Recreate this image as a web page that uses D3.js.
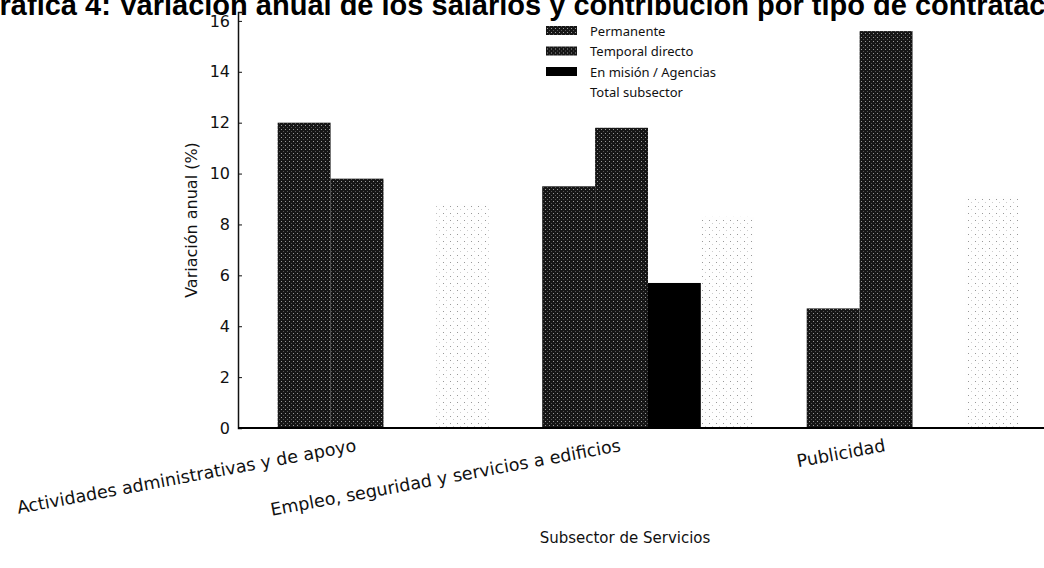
<!DOCTYPE html>
<html>
<head>
<meta charset="utf-8">
<script src="https://cdn.jsdelivr.net/npm/d3@7"></script>
<style>
	body { margin: 0; background: #fff; }
	svg { display: block; }
	.tick-y text { font-family: 'DejaVu Sans', sans-serif; font-size: 16px; fill: #111; }
	.cat-label { font-family: 'DejaVu Sans', sans-serif; font-size: 17.5px; fill: #111; }
	.axis-title { font-family: 'DejaVu Sans', sans-serif; font-size: 15px; fill: #111; }
	.axis-title.y-title { font-size: 16px; }
	.legend text { font-family: 'Noto Sans', sans-serif; font-size: 13px; fill: #111; }
	.title { font-family: 'Liberation Sans', Arial, sans-serif; font-size: 29px; font-weight: bold; fill: #000; }
</style>
</head>
<body>
<svg id="chart" width="1044" height="568"></svg>
<script>

var categories = [
	'Actividades administrativas y de apoyo',
	'Empleo, seguridad y servicios a edificios',
	'Publicidad'
];

var seriesNames = [ 'Permanente', 'Temporal directo', 'En misión / Agencias', 'Total subsector' ];

var permanente = [ 12.0, 9.5, 4.7 ];
var temporal = [ 9.8, 11.8, 15.6 ];
var enMision = [ null, 5.7, null ];
var totalSubsector = [ 8.8, 8.3, 9.1 ];

var yTicks = [ 0, 2, 4, 6, 8, 10, 12, 14, 16 ];

var series = [ permanente, temporal, enMision, totalSubsector ];
var offsets = [ -0.3, -0.1, 0.1, 0.3 ];
var barWidth = 0.2;

var svg = d3.select( '#chart' );

// halftone-ish fills, like the scanned original
var defs = svg.append( 'defs' );

var dark = defs.append( 'pattern' )
	.attr( 'id', 'dark' )
	.attr( 'patternUnits', 'userSpaceOnUse' )
	.attr( 'width', 4 ).attr( 'height', 4 );
dark.append( 'rect' ).attr( 'width', 4 ).attr( 'height', 4 ).attr( 'fill', '#161616' );
dark.append( 'rect' ).attr( 'x', 1 ).attr( 'y', 1 ).attr( 'width', 1 ).attr( 'height', 1 ).attr( 'fill', '#9a9a9a' );
dark.append( 'rect' ).attr( 'x', 3 ).attr( 'y', 3 ).attr( 'width', 1 ).attr( 'height', 1 ).attr( 'fill', '#555' );

var light = defs.append( 'pattern' )
	.attr( 'id', 'light' )
	.attr( 'patternUnits', 'userSpaceOnUse' )
	.attr( 'width', 7 ).attr( 'height', 7 );
light.append( 'rect' ).attr( 'width', 7 ).attr( 'height', 7 ).attr( 'fill', '#fefefe' );
light.append( 'rect' ).attr( 'x', 2 ).attr( 'y', 3 ).attr( 'width', 1 ).attr( 'height', 1 ).attr( 'fill', '#999' );
light.append( 'rect' ).attr( 'x', 5 ).attr( 'y', 6 ).attr( 'width', 1 ).attr( 'height', 1 ).attr( 'fill', '#ccc' );

var fills = [ 'url(#dark)', 'url(#dark)', '#000', 'url(#light)' ];

var x = d3.scaleLinear().domain( [ -0.55, 2.55 ] ).range( [ 238, 1058 ] );
var y = d3.scaleLinear().domain( [ 0, 16.35 ] ).range( [ 428, 12 ] );

// title (cropped at the top / left like the source)
svg.append( 'text' )
	.attr( 'class', 'title' )
	.attr( 'x', -23 )
	.attr( 'y', 15 )
	.text( 'Gráfica 4: Variación anual de los salarios y contribución por tipo de contratación' );

// bars
var bars = svg.append( 'g' );
series.forEach( function ( values, s ) {
	var pts = values.map( function ( v, i ) { return { i: i, v: v }; } )
		.filter( function ( d ) { return d.v !== null; } );
	bars.selectAll( 'rect.s' + s )
		.data( pts )
		.enter()
		.append( 'rect' )
		.attr( 'class', 's' + s )
		.attr( 'x', function ( d ) { return x( d.i + offsets[s] - barWidth / 2 ); } )
		.attr( 'y', function ( d ) { return y( d.v ); } )
		.attr( 'width', x( barWidth ) - x( 0 ) )
		.attr( 'height', function ( d ) { return y( 0 ) - y( d.v ); } )
		.attr( 'fill', fills[s] );
} );

// y axis, ticks pointing inwards
var yAxis = d3.axisRight( y )
	.tickValues( yTicks )
	.tickSize( 4 )
	.tickFormat( function ( d ) { return d; } );

var gy = svg.append( 'g' )
	.attr( 'class', 'tick-y' )
	.attr( 'transform', 'translate(' + x( -0.55 ) + ',0)' )
	.call( yAxis );
gy.select( '.domain' ).attr( 'stroke', '#111' ).attr( 'stroke-width', 1.5 );
gy.selectAll( '.tick line' ).attr( 'stroke', '#111' );
gy.selectAll( '.tick text' )
	.attr( 'x', -8 )
	.attr( 'text-anchor', 'end' );

// x axis
svg.append( 'line' )
	.attr( 'x1', x( -0.55 ) ).attr( 'x2', x( 2.55 ) )
	.attr( 'y1', y( 0 ) ).attr( 'y2', y( 0 ) )
	.attr( 'stroke', '#000' )
	.attr( 'stroke-width', 2 );

svg.append( 'g' )
	.selectAll( 'text' )
	.data( categories )
	.enter()
	.append( 'text' )
	.attr( 'class', 'cat-label' )
	.attr( 'text-anchor', 'end' )
	.attr( 'transform', function ( d, i ) {
		return 'translate(' + x( i - 0.1 ) + ',' + ( y( 0 ) + 23 ) + ') rotate(-10.5)';
	} )
	.text( function ( d ) { return d; } );

svg.append( 'text' )
	.attr( 'class', 'axis-title y-title' )
	.attr( 'text-anchor', 'middle' )
	.attr( 'transform', 'translate(197,' + ( ( y( 0 ) + y( 16.35 ) ) / 2 ) + ') rotate(-90)' )
	.text( 'Variación anual (%)' );

svg.append( 'text' )
	.attr( 'class', 'axis-title' )
	.attr( 'text-anchor', 'middle' )
	.attr( 'x', 625 )
	.attr( 'y', 543 )
	.text( 'Subsector de Servicios' );

// legend
var legend = svg.append( 'g' )
	.attr( 'class', 'legend' )
	.attr( 'transform', 'translate(546,31)' );

var item = legend.selectAll( 'g' )
	.data( seriesNames )
	.enter()
	.append( 'g' )
	.attr( 'transform', function ( d, i ) { return 'translate(0,' + ( i * 20.5 ) + ')'; } );

item.append( 'rect' )
	.attr( 'x', 0 ).attr( 'y', -5 )
	.attr( 'width', 31 ).attr( 'height', 9 )
	.attr( 'fill', function ( d, i ) { return i === 3 ? '#fff' : fills[i]; } );

item.append( 'text' )
	.attr( 'x', 44 )
	.attr( 'dy', '0.35em' )
	.text( function ( d ) { return d; } );

</script>
</body>
</html>
